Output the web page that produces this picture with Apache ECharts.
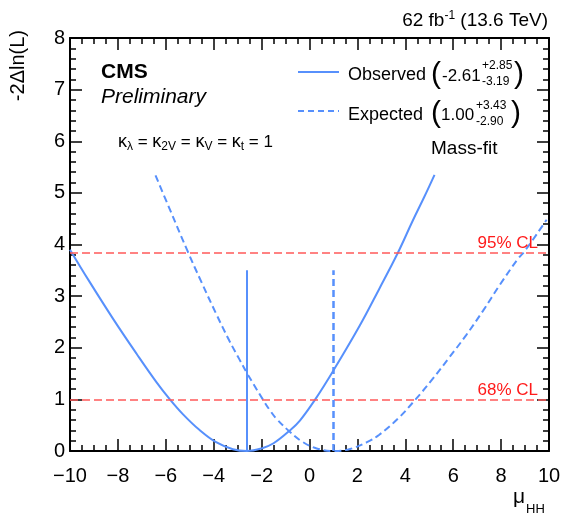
<!DOCTYPE html>
<html>
<head>
<meta charset="utf-8">
<script src="https://cdn.jsdelivr.net/npm/echarts@6/dist/echarts.min.js"></script>
<style>
  html, body { margin: 0; padding: 0; background: #fff; }
  #main { width: 580px; height: 519px; }
</style>
</head>
<body>
<div id="main"></div>
<script>
// scan points
const muObs = [-10, -9.2, -8.2, -7.2, -6.4, -5.83, -5.3, -4.6, -3.9, -3.2, -2.61, -2.0, -1.5, -0.84, -0.4, 0.24, 1.0, 2.1, 2.9, 3.68, 4.3, 4.8, 5.22];
const nllObs = [3.9, 3.29, 2.56, 1.87, 1.34, 1.0, 0.72, 0.41, 0.17, 0.035, 0, 0.05, 0.15, 0.39, 0.59, 1.0, 1.56, 2.43, 3.13, 3.83, 4.45, 4.93, 5.35];
const muExp = [-6.43, -5.85, -5.08, -4.52, -3.9, -3.34, -2.92, -2.6, -1.95, -1.67, -1.39, -0.84, -0.3, 0.3, 1.0, 1.7, 2.4, 2.9, 3.7, 4.43, 5.15, 5.85, 6.55, 7.25, 7.95, 8.7, 9.0, 9.9];
const nllExp = [5.34, 4.70, 3.86, 3.28, 2.66, 2.13, 1.77, 1.5, 1.0, 0.8, 0.63, 0.38, 0.18, 0.05, 0, 0.04, 0.17, 0.31, 0.63, 1.0, 1.4, 1.82, 2.25, 2.72, 3.22, 3.72, 3.88, 4.48];

// best fit values and the height of their markers
const bestObs = -2.61;
const bestExp = 1.00;
const bestLineTop = 3.5;

// confidence levels
const clValues = [1, 3.84];
const clLabels = ['68% CL', '95% CL'];

const FONT = '"Liberation Sans", Arial, Helvetica, sans-serif';
const BLUE = '#5790fc';

const chart = echarts.init(document.getElementById('main'));

function zip(xs, ys) {
  return xs.map((x, i) => [x, ys[i]]);
}

// red CL lines
const clLines = clValues.map((v, i) => ({
  yAxis: v,
  lineStyle: { color: '#ff5a5a', type: [8, 4], width: 1.5 },
  label: {
    show: true,
    formatter: clLabels[i],
    position: 'insideEndTop',
    distance: [11, 1],
    color: '#ff1a1a',
    fontSize: 17,
    fontFamily: FONT
  }
}));

function frameAxis(pos, min, max, interval, split, labels) {
  return {
    type: 'value',
    position: pos,
    min: min,
    max: max,
    interval: interval,
    axisLine: { show: true, onZero: false, lineStyle: { color: '#000', width: 2 } },
    axisTick: { show: true, inside: true, length: 12, lineStyle: { color: '#000', width: 1.5 } },
    minorTick: { show: true, splitNumber: split, length: 6, lineStyle: { color: '#000', width: 1.5 } },
    splitLine: { show: false },
    axisLabel: labels
  };
}

const xLabels = {
  show: true,
  margin: 15,
  color: '#000',
  fontSize: 20,
  fontFamily: FONT,
  formatter: v => String(v).replace('-', '\u2212')
};
const yLabels = {
  show: true,
  margin: 5,
  color: '#000',
  fontSize: 20,
  fontFamily: FONT
};

// small helper for plain text annotations
function txt(x, y, s, size, extra) {
  return {
    type: 'text', x: x, y: y,
    style: Object.assign({ text: s, verticalAlign: 'middle', fontSize: size, fontFamily: FONT, fill: '#000' }, extra || {})
  };
}

const option = {
  animation: false,
  backgroundColor: '#fff',
  grid: { left: 70, right: 31, top: 38, bottom: 68 },
  xAxis: [
    frameAxis('bottom', -10, 10, 2, 4, xLabels),
    frameAxis('top', -10, 10, 2, 4, { show: false })
  ],
  yAxis: [
    frameAxis('left', 0, 8, 1, 5, yLabels),
    frameAxis('right', 0, 8, 1, 5, { show: false })
  ],
  series: [{
    name: 'Observed',
    type: 'line',
    data: zip(muObs, nllObs),
    showSymbol: false,
    smooth: 0.4,
    lineStyle: { color: BLUE, width: 2 },
    markLine: {
      silent: true,
      symbol: ['none', 'none'],
      data: clLines.concat([[
        { coord: [bestObs, 0], lineStyle: { color: BLUE, type: 'solid', width: 2 }, label: { show: false } },
        { coord: [bestObs, bestLineTop] }
      ]])
    }
  }, {
    name: 'Expected',
    type: 'line',
    data: zip(muExp, nllExp),
    showSymbol: false,
    smooth: 0.4,
    lineStyle: { color: BLUE, width: 2, type: [7, 4] },
    markLine: {
      silent: true,
      symbol: ['none', 'none'],
      data: [[
        { coord: [bestExp, 0], lineStyle: { color: BLUE, type: [7, 4], width: 2.5 }, label: { show: false } },
        { coord: [bestExp, bestLineTop] }
      ]]
    }
  }],
  graphic: [
    // top right lumi text
    {
      type: 'text', x: 548, y: 21,
      style: {
        text: '62 fb{sup|-1} (13.6 TeV)',
        align: 'right', verticalAlign: 'middle',
        fontSize: 19, fontFamily: FONT, fill: '#000',
        rich: { sup: { fontSize: 12, fontFamily: FONT, padding: [0, 0, 10, 0] } }
      }
    },
    // y axis title
    {
      type: 'text', x: 18, y: 30, rotation: Math.PI / 2,
      style: { text: '-2\u0394ln(L)', align: 'right', verticalAlign: 'middle', fontSize: 20, fontFamily: FONT, fill: '#000' }
    },
    // x axis title
    txt(513, 497, '\u03bc', 21),
    txt(526, 509, 'HH', 13),
    // CMS Preliminary
    txt(101, 72, 'CMS', 21, { fontWeight: 'bold' }),
    txt(101, 97, 'Preliminary', 21, { fontStyle: 'italic' }),
    // couplings
    {
      type: 'text', x: 118, y: 142,
      style: {
        text: '{k|\u03ba}{s|\u03bb} = {k|\u03ba}{s|2V} = {k|\u03ba}{s|V} = {k|\u03ba}{s|t} = 1',
        verticalAlign: 'middle', fontSize: 17, fontFamily: FONT, fill: '#000',
        rich: {
          k: { fontSize: 18, fontFamily: FONT },
          s: { fontSize: 12, fontFamily: FONT, padding: [10, 0, 0, 0] }
        }
      }
    },
    txt(431, 149, 'Mass-fit', 19),
    // legend
    {
      type: 'line', shape: { x1: 298, y1: 72, x2: 339, y2: 72 },
      style: { stroke: BLUE, lineWidth: 2 }
    },
    {
      type: 'line', shape: { x1: 298, y1: 111, x2: 339, y2: 111 },
      style: { stroke: BLUE, lineWidth: 2, lineDash: [6, 4] }
    },
    txt(348, 75, 'Observed', 18),
    txt(431, 75, '(', 30),
    txt(442, 76, '-2.61', 17),
    txt(482, 66, '+2.85', 12),
    txt(482, 82, '-3.19', 12),
    txt(514, 75, ')', 30),
    txt(348, 115, 'Expected', 18),
    txt(431, 114, '(', 30),
    txt(441, 115, '1.00', 17),
    txt(476, 106, '+3.43', 12),
    txt(476, 122, '-2.90', 12),
    txt(511, 114, ')', 30)
  ]
};

chart.setOption(option);
</script>
</body>
</html>
